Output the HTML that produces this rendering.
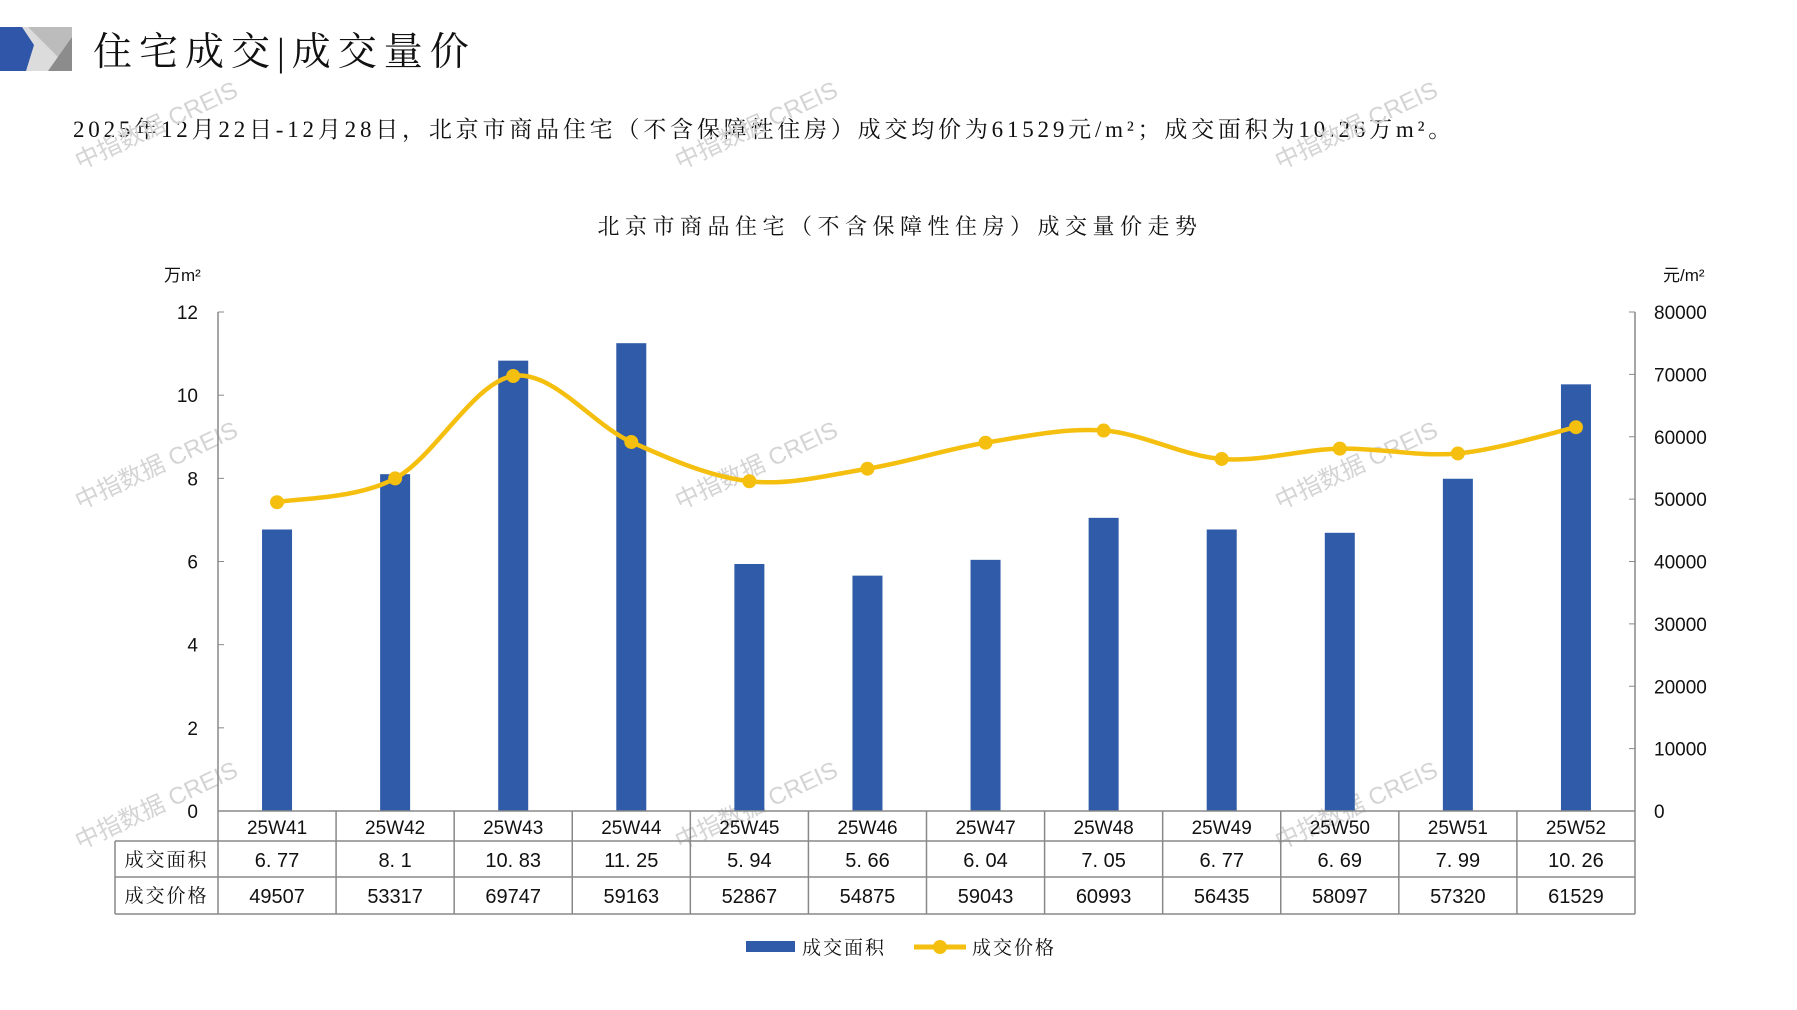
<!DOCTYPE html>
<html><head><meta charset="utf-8">
<style>
html,body{margin:0;padding:0;background:#fff;}
body{width:1797px;height:1010px;position:relative;overflow:hidden;font-family:"Liberation Sans","Noto Sans CJK SC",sans-serif;}
.t{position:absolute;white-space:nowrap;color:#111;}
.serif{font-family:"Liberation Serif","Noto Serif CJK SC",serif;}
</style></head><body>
<svg width="72" height="44" style="position:absolute;left:0;top:27px">
<rect x="0" y="0" width="72" height="44" fill="#dcdcdc"/>
<polygon points="28,0 72,0 72,44" fill="#bcbcbc"/>
<polygon points="72,10 72,44 48,44 " fill="#8c8c8c"/>
<polygon points="0,0 22,0 34,18 26,44 0,44" fill="#2f56a8"/>
</svg>
<div class="t serif" style="left:93px;top:21px;font-size:39px;letter-spacing:7px;">住宅成交|成交量价</div>
<div class="t serif" style="left:73px;top:111px;font-size:23px;letter-spacing:3.8px;">2025年12月22日-12月28日，北京市商品住宅（不含保障性住房）成交均价为61529元/m²；成交面积为10.26万m²。</div>
<div class="t serif" style="left:0;width:1800px;text-align:center;top:210px;font-size:22px;letter-spacing:5.5px;">北京市商品住宅（不含保障性住房）成交量价走势</div>
<svg id="c" width="1797" height="1010" style="position:absolute;left:0;top:0"></svg>
<script>
var bars=[6.77,8.1,10.83,11.25,5.94,5.66,6.04,7.05,6.77,6.69,7.99,10.26];
var price=[49507,53317,69747,59163,52867,54875,59043,60993,56435,58097,57320,61529];
var areaTxt=["6. 77","8. 1","10. 83","11. 25","5. 94","5. 66","6. 04","7. 05","6. 77","6. 69","7. 99","10. 26"];
var L=218,R=1635,T=312,B=811,W=(R-L)/12;
var s='';
var F='font-family="Liberation Sans,Noto Sans CJK SC,sans-serif"';
var FS='font-family="Liberation Serif,Noto Serif CJK SC,serif"';
[[80,170],[680,170],[1280,170],[80,510],[680,510],[1280,510],[80,850],[680,850],[1280,850]].forEach(function(p){
 s+='<text x="'+p[0]+'" y="'+p[1]+'" transform="rotate(-25 '+p[0]+' '+p[1]+')" font-size="24" fill="#d4d4d4" '+F+'>中指数据 CREIS</text>';});
s+='<line x1="'+L+'" y1="'+T+'" x2="'+L+'" y2="'+B+'" stroke="#888" stroke-width="1.5"/>';
s+='<line x1="'+R+'" y1="'+T+'" x2="'+R+'" y2="'+B+'" stroke="#888" stroke-width="1.5"/>';
for(var i=0;i<=6;i++){var y=B-i*(B-T)/6;
 s+='<line x1="'+(L)+'" y1="'+y+'" x2="'+(L+6)+'" y2="'+y+'" stroke="#888"/>';
 s+='<text x="198" y="'+(y+7)+'" text-anchor="end" font-size="19" fill="#111" '+F+'>'+(i*2)+'</text>';}
for(var i=0;i<=8;i++){var y=B-i*(B-T)/8;
 s+='<line x1="'+(R-6)+'" y1="'+y+'" x2="'+R+'" y2="'+y+'" stroke="#888"/>';
 s+='<text x="1654" y="'+(y+7)+'" font-size="19" fill="#111" '+F+'>'+(i*10000)+'</text>';}
s+='<text x="164" y="281" font-size="17" fill="#111" '+F+'>万m²</text>';
s+='<text x="1663" y="281" font-size="17" fill="#111" '+F+'>元/m²</text>';
bars.forEach(function(v,i){var cx=L+W*(i+0.5),h=v*(B-T)/12;
 s+='<rect x="'+(cx-15)+'" y="'+(B-h)+'" width="30" height="'+h+'" fill="#2f5ba8"/>';});
var P=price.map(function(v,i){return [L+W*(i+0.5),B-v*(B-T)/80000];});
var d='M'+P[0][0]+','+P[0][1];
for(var i=0;i<P.length-1;i++){var p0=P[i-1]||P[i],p1=P[i],p2=P[i+1],p3=P[i+2]||P[i+1];
 d+=' C'+(p1[0]+(p2[0]-p0[0])/6)+','+(p1[1]+(p2[1]-p0[1])/6)+' '+(p2[0]-(p3[0]-p1[0])/6)+','+(p2[1]-(p3[1]-p1[1])/6)+' '+p2[0]+','+p2[1];}
s+='<path d="'+d+'" fill="none" stroke="#f5bf0f" stroke-width="4.5"/>';
P.forEach(function(p){s+='<circle cx="'+p[0]+'" cy="'+p[1]+'" r="7" fill="#f5bf0f"/>';});
var tl=115,r1=B,r2=841,r3=877,r4=914;
s+='<g stroke="#888" stroke-width="1.5" fill="none">';
s+='<line x1="'+L+'" y1="'+r1+'" x2="'+R+'" y2="'+r1+'"/>';
s+='<line x1="'+tl+'" y1="'+r2+'" x2="'+R+'" y2="'+r2+'"/>';
s+='<line x1="'+tl+'" y1="'+r3+'" x2="'+R+'" y2="'+r3+'"/>';
s+='<line x1="'+tl+'" y1="'+r4+'" x2="'+R+'" y2="'+r4+'"/>';
s+='<line x1="'+tl+'" y1="'+r2+'" x2="'+tl+'" y2="'+r4+'"/>';
for(var i=0;i<=12;i++){var x=L+W*i;s+='<line x1="'+x+'" y1="'+r1+'" x2="'+x+'" y2="'+r4+'"/>';}
s+='</g>';
s+='<text x="'+((tl+L)/2)+'" y="'+(r2+25)+'" text-anchor="middle" font-size="19" letter-spacing="2" fill="#111" '+FS+'>成交面积</text>';
s+='<text x="'+((tl+L)/2)+'" y="'+(r3+25)+'" text-anchor="middle" font-size="19" letter-spacing="2" fill="#111" '+FS+'>成交价格</text>';
for(var i=0;i<12;i++){var cx=L+W*(i+0.5);
 s+='<text x="'+cx+'" y="'+(r1+23)+'" text-anchor="middle" font-size="19" fill="#111" '+F+'>25W'+(41+i)+'</text>';
 s+='<text x="'+cx+'" y="'+(r2+26)+'" text-anchor="middle" font-size="20" fill="#111" '+F+'>'+areaTxt[i]+'</text>';
 s+='<text x="'+cx+'" y="'+(r3+26)+'" text-anchor="middle" font-size="20" fill="#111" '+F+'>'+price[i]+'</text>';}
s+='<rect x="746" y="941" width="49" height="11" fill="#2f5ba8"/>';
s+='<text x="802" y="954" font-size="19" letter-spacing="2" fill="#111" '+FS+'>成交面积</text>';
s+='<line x1="914" y1="947" x2="966" y2="947" stroke="#f5bf0f" stroke-width="5"/>';
s+='<circle cx="940" cy="947" r="7" fill="#f5bf0f"/>';
s+='<text x="972" y="954" font-size="19" letter-spacing="2" fill="#111" '+FS+'>成交价格</text>';
document.getElementById('c').innerHTML=s;
</script>
</body></html>
